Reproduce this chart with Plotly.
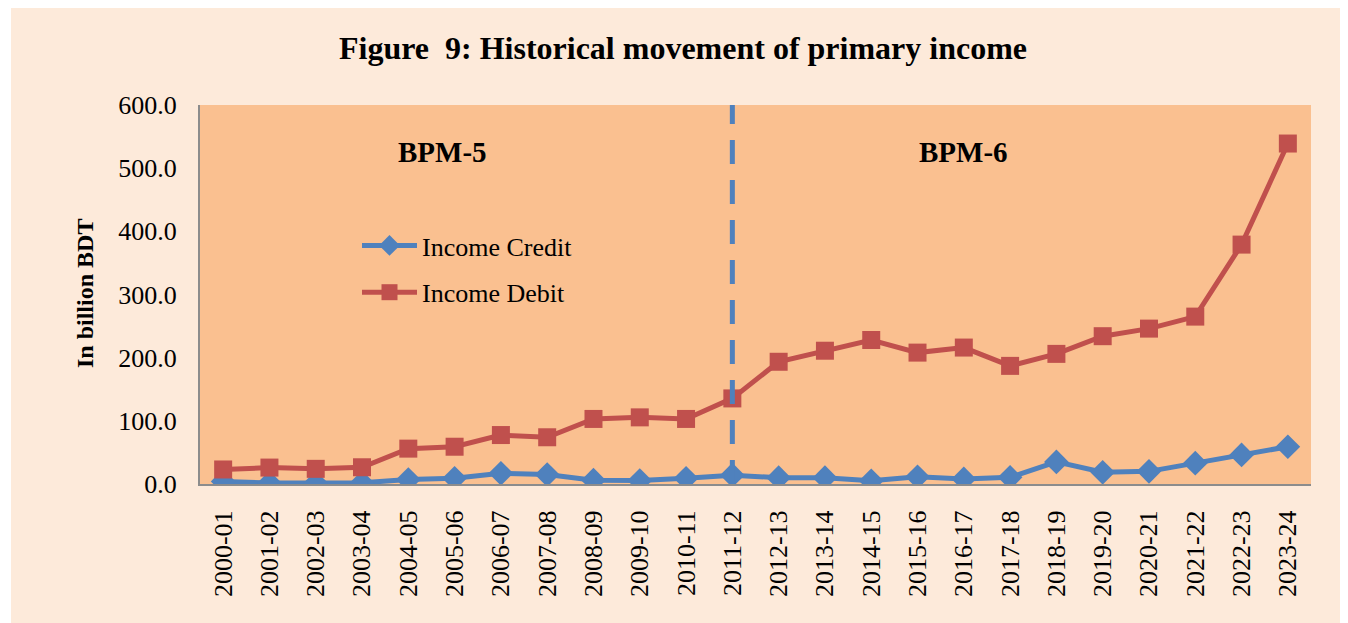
import plotly.graph_objects as go

years = ["2000-01", "2001-02", "2002-03", "2003-04", "2004-05", "2005-06", "2006-07",
         "2007-08", "2008-09", "2009-10", "2010-11", "2011-12", "2012-13", "2013-14",
         "2014-15", "2015-16", "2016-17", "2017-18", "2018-19", "2019-20", "2020-21",
         "2021-22", "2022-23", "2023-24"]
income_credit = [4, 1.5, 1.5, 2, 7, 9, 17, 15, 6, 5.5, 9, 14, 10, 10, 5, 11.5, 8, 10.5,
                 35, 18.5, 20, 33, 46, 59]
income_debit = [23, 26, 24, 26.5, 56, 59, 77.5, 74, 103, 105.5, 103, 135.5, 193.5, 211,
                228, 208, 216, 187, 206, 234, 246, 265, 379, 539]
y_ticks = [0, 100, 200, 300, 400, 500, 600]
break_year = "2011-12"

FONT = "Liberation Serif, Times New Roman, serif"
BLUE = "#4F81BD"
RED = "#C0504D"

OFF = 8  # page body margin
W, H = 1348, 615
ML, MT = 200 - OFF, 105 - OFF
MR = W - (1311 - OFF)
MB = H - (484 - OFF)
PW, PH = W - ML - MR, H - MT - MB

def px_x(p):  # reference page pixel -> paper x
    return (p - OFF - ML) / PW

def px_y(p):  # reference page pixel -> paper y
    return (H - MB - (p - OFF)) / PH

fig = go.Figure()
fig.add_trace(go.Scatter(
    x=years, y=income_credit, name="Income Credit", mode="lines+markers",
    line=dict(color=BLUE, width=5), legendgroup="a",
    marker=dict(symbol="diamond", size=19, color=BLUE)))
fig.add_trace(go.Scatter(
    x=years, y=income_debit, name="Income Debit", mode="lines+markers",
    line=dict(color=RED, width=5), legendgroup="b",
    marker=dict(symbol="square", size=18, color=RED)))

shapes = [
    dict(type="line", xref="x", yref="y", x0=break_year, x1=break_year, y0=0, y1=600,
         line=dict(color=BLUE, width=5, dash="24px,16px"), layer="above"),
    dict(type="rect", xref="paper", yref="paper", x0=px_x(OFF), x1=px_x(11),
         y0=px_y(H + OFF), y1=px_y(OFF), fillcolor="white", line=dict(width=0)),
]

annotations = [
    dict(text="<b>BPM-5</b>", xref="paper", yref="paper", x=px_x(442), y=px_y(152),
         xanchor="center", yanchor="middle",
         showarrow=False, font=dict(family=FONT, size=29, color="black")),
    dict(text="<b>BPM-6</b>", xref="paper", yref="paper", x=px_x(963), y=px_y(152),
         xanchor="center", yanchor="middle",
         showarrow=False, font=dict(family=FONT, size=29, color="black")),
    dict(text="<b>In billion BDT</b>", xref="paper", yref="paper", x=px_x(85), y=px_y(294),
         xanchor="center", yanchor="middle",
         textangle=-90, showarrow=False, font=dict(family=FONT, size=24, color="black")),
]

fig.update_layout(
    width=W, height=H,
    margin=dict(l=ML, r=MR, t=MT, b=MB),
    paper_bgcolor="#FDEADA", plot_bgcolor="#FAC090",
    title=dict(text="<b>Figure  9: Historical movement of primary income</b>",
               x=(683 - OFF) / W, xanchor="center", y=1 - (48 - OFF) / H, yanchor="middle",
               font=dict(family=FONT, size=32, color="black")),
    font=dict(family=FONT, color="black"),
    showlegend=True,
    legend=dict(x=px_x(357), y=px_y(222), xanchor="left", yanchor="top",
                bgcolor="rgba(0,0,0,0)", font=dict(family=FONT, size=26, color="black"),
                traceorder="grouped", tracegroupgap=10, itemwidth=55),
    shapes=shapes,
    annotations=annotations,
)
fig.update_xaxes(
    type="category", categoryorder="array", categoryarray=years,
    range=[-0.5, len(years) - 0.5],
    showline=True, linecolor="#8C8C8C", linewidth=2, showgrid=False, zeroline=False,
    tickangle=-90, tickfont=dict(family=FONT, size=26, color="black"),
    ticks="", ticklabelstandoff=14)
fig.update_yaxes(
    range=[0, 600], tickvals=y_ticks, tickformat=".1f",
    showline=True, linecolor="#8C8C8C", linewidth=2, showgrid=False, zeroline=False,
    tickfont=dict(family=FONT, size=26, color="black"),
    ticks="", ticklabelstandoff=16)

fig.write_html("out.html")
